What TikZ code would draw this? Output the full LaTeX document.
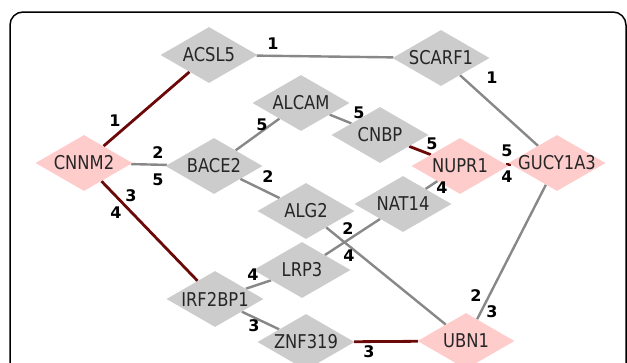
\documentclass[tikz,border=0pt]{standalone}
\usepackage{fontspec}
\setmainfont{DejaVu Sans}
\newfontfamily\nodefont[FakeStretch=0.86]{DejaVu Sans}
\newfontfamily\labfont{DejaVu Sans Bold}
\usetikzlibrary{shapes.geometric,backgrounds}
\definecolor{gfill}{HTML}{CCCCCC}
\definecolor{pfill}{HTML}{FFCCCC}
\definecolor{gedge}{HTML}{888888}
\definecolor{redge}{HTML}{6B0808}
\newcommand\gtxt[1]{\makebox[0pt][c]{#1}}
\tikzset{
  gene/.style={diamond, draw=none, inner sep=0pt, minimum width=97pt, minimum height=56pt,
    font=\nodefont\fontsize{19}{19}\selectfont, text=black!85},
  grayg/.style={gene, fill=gfill},
  pinkg/.style={gene, fill=pfill},
  gline/.style={draw=gedge, line width=2.4pt},
  rline/.style={draw=redge, line width=2.8pt},
  wlab/.style={font=\labfont\fontsize{16}{16}\selectfont, inner sep=0pt}
}
\begin{document}
\begin{tikzpicture}[x=1pt,y=-1pt]
\useasboundingbox (0,0) rectangle (627,362);
\begin{scope}
\clip (0,0) rectangle (627,362);
\draw[line width=1.5pt, rounded corners=13pt] (10,12) rectangle (626,400);
\end{scope}
\node[grayg] (acsl5) at (209,55) {\gtxt{ACSL5}};
\node[grayg] (scarf1) at (441,58) {\gtxt{SCARF1}};
\node[grayg] (alcam) at (301,103) {\gtxt{ALCAM}};
\node[grayg] (cnbp) at (380,135) {\gtxt{CNBP}};
\node[pinkg] (cnnm2) at (84,163) {\gtxt{CNNM2}};
\node[grayg] (bace2) at (214,166) {\gtxt{BACE2}};
\node[pinkg] (nupr1) at (460,166) {\gtxt{NUPR1}};
\node[pinkg] (gucy) at (557,163) {\gtxt{GUCY1A3}};
\node[grayg] (alg2) at (306,211) {\gtxt{ALG2}};
\node[grayg] (nat14) at (403,204) {\gtxt{NAT14}};
\node[grayg] (lrp3) at (302,270) {\gtxt{LRP3}};
\node[grayg] (irf2bp1) at (215,299) {\gtxt{IRF2BP1}};
\node[grayg] (znf319) at (306,342) {\gtxt{ZNF319}};
\node[pinkg] (ubn1) at (466,341) {\gtxt{UBN1}};
\begin{scope}[on background layer]
\draw[rline] (cnnm2) -- (acsl5);
\draw[gline] (acsl5) -- (scarf1);
\draw[gline] (scarf1) -- (gucy);
\draw[gline] (cnnm2) -- (bace2);
\draw[gline] (bace2) -- (alcam);
\draw[gline] (alcam) -- (cnbp);
\draw[rline] (cnbp) -- (nupr1);
\draw[rline] (nupr1) -- (gucy);
\draw[gline] (bace2) -- (alg2);
\draw[gline] (nat14) -- (nupr1);
\draw[gline] (alg2) -- (ubn1);
\draw[gline] (lrp3) -- (nat14);
\draw[rline] (cnnm2) -- (irf2bp1);
\draw[gline] (irf2bp1) -- (lrp3);
\draw[gline] (irf2bp1) -- (znf319);
\draw[rline] (znf319) -- (ubn1);
\draw[gline] (ubn1) -- (gucy);
\end{scope}
\node[wlab] (w1) at (115,121) {1};
\node[wlab] (w2) at (273,44) {1};
\node[wlab] (w3) at (492,78) {1};
\node[wlab] (w4) at (158,153) {2};
\node[wlab] (w5) at (158,180) {5};
\node[wlab] (w6) at (262,125) {5};
\node[wlab] (w7) at (359,113) {5};
\node[wlab] (w8) at (432,144) {5};
\node[wlab] (w9) at (507,151) {5};
\node[wlab] (w10) at (507,177) {4};
\node[wlab] (w11) at (268,177) {2};
\node[wlab] (w12) at (442,188) {4};
\node[wlab] (w13) at (348,229) {2};
\node[wlab] (w14) at (349,256) {4};
\node[wlab] (w15) at (131,196) {3};
\node[wlab] (w16) at (116,213) {4};
\node[wlab] (w17) at (253,275) {4};
\node[wlab] (w18) at (254,326) {3};
\node[wlab] (w19) at (369,352) {3};
\node[wlab] (w20) at (476,296) {2};
\node[wlab] (w21) at (492,312) {3};
\end{tikzpicture}
\end{document}
